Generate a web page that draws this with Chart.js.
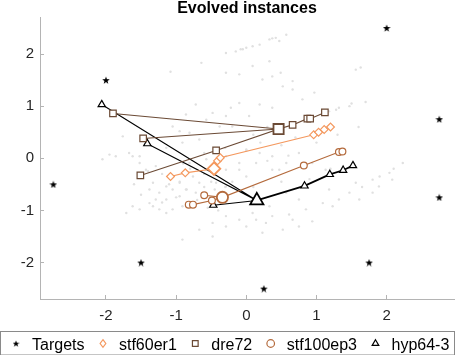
<!DOCTYPE html>
<html>
<head>
<meta charset="utf-8">
<script src="https://cdn.jsdelivr.net/npm/chart.js@4.4.0/dist/chart.umd.min.js"></script>
<style>
html, body { margin: 0; padding: 0; background: #fff; }
</style>
</head>
<body>
<canvas id="grafica" width="455" height="355"></canvas>
<script>
const xTicks = [-2, -1, 0, 1, 2];
const yTicks = [-2, -1, 0, 1, 2];

const targetsX = [-2, 2, 2.75, -2.75, -1.5, 0.25, 1.75, 2.75];
const targetsY = [1.5, 2.5, 0.75, -0.5, -2, -2.5, -2, -0.75];

// stf60er1 (rombos)
const stf60X = [-1.08, -0.87, -0.46, -0.41, -0.37, 0.96, 1.03, 1.11, 1.20];
const stf60Y = [-0.35, -0.28, -0.20, -0.05, 0.01, 0.45, 0.50, 0.55, 0.60];
const stf60Path = [0, 1, 2, 3, 4, 5, 6, 7, 8];
const stf60Big = 2;

// dre72 (cuadrados)
const dreX = [-1.90, -1.47, -1.51, -0.43, 0.46, 0.66, 0.87, 0.91, 1.12];
const dreY = [0.86, 0.38, -0.33, 0.15, 0.56, 0.64, 0.76, 0.76, 0.88];
const drePath = [0, 4, 1, 4, 3, 2, 3, 4, 5, 6, 7, 8];
const dreBig = 4;

// stf100ep3 (circulos)
const stf100X = [-0.82, -0.76, -0.60, -0.49, -0.34, 0.82, 1.32, 1.37];
const stf100Y = [-0.89, -0.89, -0.71, -0.81, -0.75, -0.14, 0.12, 0.13];
const stf100Path = [0, 1, 3, 4, 2, 4, 5, 6, 7];
const stf100Big = 4;

// hyp64-3 (triangulos)
const hypX = [-2.06, -1.41, -0.47, 0.15, 0.83, 1.19, 1.38, 1.52];
const hypY = [1.03, 0.28, -0.90, -0.81, -0.53, -0.31, -0.23, -0.14];
const hypPath = [0, 3, 1, 3, 2, 3, 4, 5, 6, 7];
const hypBig = 3;

// nube de instancias (puntos grises)
const cloudX = [
  -0.29, -0.15, -0.08, -0.64, -1.08, -0.29, -0.10, 0.00, 0.09, 0.19, 0.33, 0.42, 0.47, 0.57, 0.37, -0.05, 0.09, 0.33,
  1.56, 1.63, 0.23, 0.37, 0.49, 0.66, 0.52, 0.66, 0.80, 0.97, 0.19, 0.37, 0.04, 1.18, 1.32, 1.47, 1.28,
  -1.05, -0.95, -0.81, -0.57, -0.48, -0.29, -0.22, -0.10, -0.38, -0.20, -0.67, -0.91, -1.14, -1.67, -1.76, -1.52, -1.86, -0.72, -0.86,
  -2.05, -1.95, -1.62, -1.52, -1.29, -1.33, -1.24, -1.38, -1.24, -1.14, -1.05, -0.95, -0.72, -0.67, -0.81, -0.57, -0.29, -0.10,
  0.00, 0.14, 0.37, 0.47, -1.05, -0.91, -1.62, -1.71,
  -0.10, 0.14, 0.37, 0.61, 0.85, 1.09, 1.32, 1.56, 1.80, 2.04, 2.23, 0.52, 0.75, 0.94, -0.67, -0.48, -0.29, 0.23, -0.91,
  0.57, 0.75, 1.18, 1.47, 1.80, 0.33, 0.09,
  -0.60, -0.30, 0.00, 0.20, 0.50, 0.70, 1.00, 1.30, 1.60, -0.90, -1.20, 0.30, 0.60, 0.90, 1.20, 0.50, -0.50, -0.30, 0.10,
  -1.10, -0.95, -0.85, -0.70, -0.55, -0.40, -1.20, -1.00, -0.60, -0.45, -0.20, -0.80, -0.60, -1.40, -1.60, -1.50,
  0.10, 0.30, 1.50, 1.70, 1.90, 2.10, 1.65,
  -1.43, -1.38, -1.29, -1.14, -0.95, -0.86, -0.76, -0.57, -0.43, -0.29, -0.29, -0.10, 0.00, 0.19, 0.37, 0.57, 0.75, 0.94, 1.13,
  -1.52, -1.33, -1.14, -0.29, -0.48, 0.00, 0.28, 0.66, 1.23, 1.61, 1.89, 2.08
];
const cloudY = [
  2.02, 2.05, 2.09, 1.83, 1.66, 1.64, 1.61, 2.12, 2.15, 2.18, 2.28, 2.31, 2.25, 2.37, 2.30, 2.09, 1.77, 1.86,
  1.70, 1.74, 1.51, 1.57, 1.64, 1.48, 1.38, 1.32, 1.13, 1.26, 1.03, 0.97, 0.81, 0.90, 0.97, 1.00, 0.93,
  0.61, 0.52, 0.49, 0.74, 0.87, 0.81, 0.97, 1.06, 0.61, 0.61, 0.36, 0.30, 0.20, 0.10, 0.42, 0.04, 0.04, 1.03, 0.84,
  -0.02, 0.07, 0.04, -0.09, -0.15, -0.47, -0.66, -0.86, -0.98, -0.79, -0.60, -0.73, -0.66, -0.47, -0.09, -0.02, 0.04, -0.22,
  -0.35, -0.09, 0.04, -0.22, -0.98, -0.92, -0.92, -1.05,
  -1.18, -1.18, -1.11, -1.08, -0.98, -0.86, -0.79, -0.47, -0.41, -0.28, -0.09, -1.37, -1.31, -1.21, -1.37, -1.50, -1.31, -1.43, -1.56,
  -0.66, -0.79, -0.60, -0.66, -0.66, -0.92, -1.05,
  0.10, 0.20, 0.15, 0.30, 0.25, 0.40, 0.30, 0.45, 0.60, -0.10, -0.30, -0.05, 0.05, -0.40, -0.20, -0.45, -0.45, -0.55, -0.55,
  -0.50, -0.45, -0.60, -0.80, -0.95, -1.00, -0.85, -0.75, -0.55, -0.60, -0.45, -0.20, -0.30, -0.25, -0.50, -0.70,
  0.45, 0.60, 1.05, 1.08, -0.35, -0.20, -0.55,
  -0.22, -0.60, -0.79, -0.54, -0.47, -0.60, -0.35, -0.22, -0.47, -0.54, -0.22, -0.09, 0.17, 0.10, -0.22, -0.09, 0.10, -0.09, -0.22,
  -0.98, -0.92, -1.05, -1.11, -1.24, -1.31, -1.24, -1.18, -0.92, -0.79, -0.54, -0.41
];

const gris = '#b4b4b4';
const texto = '#262626';
const fuente = '"Liberation Sans", Arial, Helvetica, sans-serif';

function crearEstrella(tam, color) {
    const c = document.createElement('canvas');
    c.width = tam;
    c.height = tam;
    const g = c.getContext('2d');
    g.beginPath();
    for (let i = 0; i < 10; i++) {
        const r = i % 2 ? tam * 0.2 : tam / 2;
        const a = -Math.PI / 2 + i * Math.PI / 5;
        g.lineTo(tam / 2 + r * Math.cos(a), tam / 2 + 0.4 + r * Math.sin(a));
    }
    g.closePath();
    g.fillStyle = color;
    g.fill();
    return c;
}
const estrella = crearEstrella(8, '#000');

const puntos = (xs, ys) => xs.map((x, i) => ({ x: x, y: ys[i] }));
const camino = (xs, ys, path) => path.map(i => ({ x: xs[i], y: ys[i] }));

const series = [
    { label: 'stf60er1', xs: stf60X, ys: stf60Y, path: stf60Path, big: stf60Big, color: '#f4985e', estilo: 'rectRot', r: 3.9, rBig: 6.3 },
    { label: 'dre72', xs: dreX, ys: dreY, path: drePath, big: dreBig, color: '#6b4a35', estilo: 'rect', r: 4.6, rBig: 7.2 },
    { label: 'stf100ep3', xs: stf100X, ys: stf100Y, path: stf100Path, big: stf100Big, color: '#b46a3c', estilo: 'circle', r: 3.4, rBig: 5.6 },
    { label: 'hyp64-3', xs: hypX, ys: hypY, path: hypPath, big: hypBig, color: '#000000', estilo: 'triangle', r: 4.2, rBig: 7.6 }
];

const datasets = [];
datasets.push({
    label: 'Targets', data: puntos(targetsX, targetsY), pointStyle: estrella,
    showLine: false, order: 0, enLeyenda: true
});
series.forEach(s => {
    datasets.push({
        label: s.label, data: puntos(s.xs, s.ys), showLine: false, order: 0,
        pointStyle: s.estilo, borderColor: s.color, backgroundColor: '#ffffff',
        pointRadius: s.xs.map((_, i) => i === s.big ? s.rBig : s.r),
        pointBorderWidth: s.xs.map((_, i) => i === s.big ? 1.8 : 1.2),
        enLeyenda: true
    });
});
series.forEach(s => {
    const tramoGrueso = s.path.lastIndexOf(s.big);
    datasets.push({
        label: '_' + s.label, data: camino(s.xs, s.ys, s.path), showLine: true, order: 1,
        borderColor: s.color, borderWidth: 1.1, pointRadius: 0,
        // el tramo final de hyp64-3 se ve mas grueso
        segment: {
            borderWidth: c => (s.label === 'hyp64-3' && c.p0DataIndex >= tramoGrueso) ? 1.8 : 1.1
        }
    });
});
datasets.push({
    label: '_cloud', data: puntos(cloudX, cloudY), showLine: false, order: 2,
    pointRadius: 1.2, pointBorderWidth: 0, backgroundColor: '#e0e0e0', borderColor: '#e0e0e0'
});

// titulo centrado sobre el area de la grafica
const tituloPlugin = {
    id: 'tituloPlugin',
    afterDraw(chart) {
        const ctx = chart.ctx;
        const a = chart.chartArea;
        ctx.save();
        ctx.font = 'bold 16px ' + fuente;
        ctx.fillStyle = '#000';
        ctx.textAlign = 'center';
        ctx.textBaseline = 'alphabetic';
        ctx.fillText('Evolved instances', (a.left + a.right) / 2, 13);
        ctx.restore();
    }
};

function dibujarMarcador(ctx, estilo, x, y, r) {
    ctx.beginPath();
    if (estilo === 'circle') {
        ctx.arc(x, y, r, 0, Math.PI * 2);
    } else if (estilo === 'rect') {
        ctx.rect(x - r * 0.75, y - r * 0.75, r * 1.5, r * 1.5);
    } else if (estilo === 'rectRot') {
        ctx.moveTo(x, y - r);
        ctx.lineTo(x + r * 0.75, y);
        ctx.lineTo(x, y + r);
        ctx.lineTo(x - r * 0.75, y);
        ctx.closePath();
    } else if (estilo === 'triangle') {
        ctx.moveTo(x, y - r);
        ctx.lineTo(x + r * 0.87, y + r * 0.5);
        ctx.lineTo(x - r * 0.87, y + r * 0.5);
        ctx.closePath();
    }
    ctx.fill();
    ctx.stroke();
}

// leyenda con recuadro, en una sola fila
const leyendaPlugin = {
    id: 'leyendaPlugin',
    afterDraw(chart) {
        const ctx = chart.ctx;
        const top = 331, alto = 23.5;
        ctx.save();
        ctx.strokeStyle = '#8a8a8a';
        ctx.lineWidth = 1;
        ctx.fillStyle = '#fff';
        ctx.fillRect(0.5, top + 0.5, chart.width - 1, alto);
        ctx.strokeRect(0.5, top + 0.5, chart.width - 1, alto);
        ctx.font = '16px ' + fuente;
        ctx.textBaseline = 'alphabetic';
        ctx.textAlign = 'left';
        let x = 16;
        const yc = top + 12.5;
        chart.data.datasets.filter(d => d.enLeyenda).forEach(d => {
            if (d.pointStyle === estrella) {
                ctx.drawImage(estrella, x - 3.5, yc - 3.5, 7, 7);
            } else {
                ctx.strokeStyle = d.borderColor;
                ctx.fillStyle = '#fff';
                ctx.lineWidth = 1.2;
                dibujarMarcador(ctx, d.pointStyle, x, yc, 3.8);
            }
            ctx.fillStyle = '#000';
            ctx.fillText(d.label, x + 16, top + 18.5);
            x += 16 + ctx.measureText(d.label).width + 18.5;
        });
        ctx.restore();
    }
};

const ctx = document.getElementById('grafica').getContext('2d');
const grafica = new Chart(ctx, {
    type: 'scatter',
    data: { datasets: datasets },
    options: {
        responsive: false,
        animation: false,
        devicePixelRatio: 1,
        layout: { autoPadding: false, padding: { top: 17, right: 1, bottom: 24, left: 0 } },
        plugins: {
            legend: { display: false },
            title: { display: false },
            tooltip: { enabled: false }
        },
        scales: {
            x: {
                type: 'linear', min: -2.94, max: 2.96,
                afterBuildTicks: s => { s.ticks = xTicks.map(v => ({ value: v })); },
                afterFit: s => { s.height = 32; s.paddingLeft = 0; s.paddingRight = 0; },
                grid: { drawOnChartArea: false, drawTicks: true, tickLength: -4, color: gris },
                border: { color: gris, width: 1 },
                ticks: { font: { size: 15, family: fuente }, color: texto, padding: 12, maxRotation: 0 }
            },
            y: {
                type: 'linear', min: -2.7, max: 2.71,
                afterBuildTicks: s => { s.ticks = yTicks.map(v => ({ value: v })); },
                afterFit: s => { s.width = 40; s.paddingTop = 0; s.paddingBottom = 0; },
                grid: { drawOnChartArea: false, drawTicks: true, tickLength: -4, color: gris },
                border: { color: gris, width: 1 },
                ticks: { font: { size: 15, family: fuente }, color: texto, padding: 10 }
            }
        }
    },
    plugins: [tituloPlugin, leyendaPlugin]
});
</script>
</body>
</html>
